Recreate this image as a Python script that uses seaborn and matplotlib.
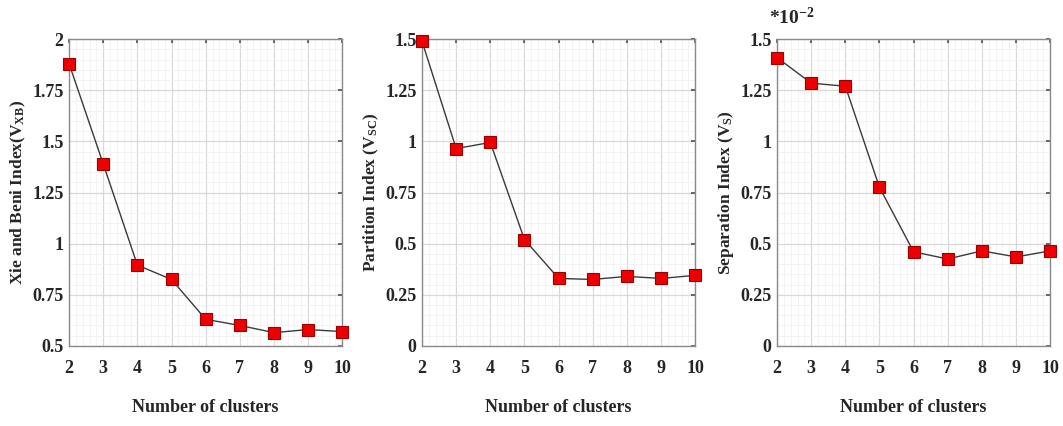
import matplotlib
matplotlib.use("Agg")
import matplotlib.pyplot as plt
import seaborn as sns
import pandas as pd
import numpy as np
from matplotlib.ticker import AutoMinorLocator, FuncFormatter

clusters = [2, 3, 4, 5, 6, 7, 8, 9, 10]
xb_index = [1.88, 1.39, 0.895, 0.825, 0.63, 0.60, 0.565, 0.58, 0.57]
sc_index = [1.49, 0.965, 0.995, 0.52, 0.33, 0.325, 0.34, 0.33, 0.345]
s_index = [1.41, 1.285, 1.27, 0.775, 0.46, 0.425, 0.465, 0.435, 0.465]

ylabels = [r"Xie and Beni Index(V$_{\mathbf{XB}}$)",
           r"Partition Index (V$_{\mathbf{SC}}$)",
           r"Separation Index (V$_{\mathbf{S}}$)"]
xlabel = "Number of clusters"
ylims = [(0.5, 2.0), (0.0, 1.5), (0.0, 1.5)]
yticks = [[0.5, 0.75, 1.0, 1.25, 1.5, 1.75, 2.0],
          [0, 0.25, 0.5, 0.75, 1.0, 1.25, 1.5],
          [0, 0.25, 0.5, 0.75, 1.0, 1.25, 1.5]]

sns.set_theme(style="white")
plt.rcParams['font.family'] = ['Liberation Serif', 'DejaVu Serif']
plt.rcParams['font.weight'] = 'bold'
plt.rcParams['mathtext.fontset'] = 'custom'
plt.rcParams['mathtext.rm'] = 'Liberation Serif:bold'
plt.rcParams['mathtext.bf'] = 'Liberation Serif:bold'
plt.rcParams['mathtext.it'] = 'Liberation Serif:bold'
plt.rcParams['mathtext.default'] = 'bf'

fig = plt.figure(figsize=(10.63, 4.26), dpi=100)
lefts = [0.065, 0.397, 0.731]
series = [xb_index, sc_index, s_index]

def fmt(v, pos):
    return "%g" % v

for i in range(3):
    ax = fig.add_axes([lefts[i], 0.188, 0.257, 0.72])
    df = pd.DataFrame({"k": clusters, "v": series[i]})
    sns.lineplot(data=df, x="k", y="v", ax=ax, color="#3a3a3a", linewidth=1.0,
                 marker="s", markersize=8.5, markerfacecolor="#ee0000",
                 markeredgecolor="#990000", markeredgewidth=0.8, clip_on=False,
                 zorder=5)
    ax.set_xlim(2, 10)
    ax.set_ylim(*ylims[i])
    ax.set_xticks(clusters)
    ax.set_yticks(yticks[i])
    ax.yaxis.set_major_formatter(FuncFormatter(fmt))
    ax.xaxis.set_minor_locator(AutoMinorLocator(5))
    ax.yaxis.set_minor_locator(AutoMinorLocator(5))
    ax.grid(True, which="major", color="#d9d9d9", linewidth=0.9)
    ax.grid(True, which="minor", color="#efefef", linewidth=0.5)
    ax.set_axisbelow(True)
    for sp in ax.spines.values():
        sp.set_color("#8a8a8a")
        sp.set_linewidth(1.0)
    ax.tick_params(axis="both", which="major", direction="in", length=3,
                   color="#555555", top=True, right=True, labelsize=13)
    ax.tick_params(axis="x", which="major", pad=10)
    ax.tick_params(axis="y", which="major", pad=4)
    ax.tick_params(axis="both", which="minor", length=0)
    for lab in ax.get_xticklabels() + ax.get_yticklabels():
        lab.set_fontweight("bold")
    ax.set_xlabel(xlabel, fontsize=13, fontweight="bold", labelpad=16)
    ax.set_ylabel(ylabels[i], fontsize=12.5, fontweight="bold")
    ax.yaxis.set_label_coords(-0.15, 0.5)
    if i == 2:
        ax.text(-0.03, 1.035, r"*10$^{-2}$", transform=ax.transAxes,
                fontsize=14, fontweight="bold", ha="left", va="bottom")

fig.savefig("out.png", dpi=100, facecolor="white")
